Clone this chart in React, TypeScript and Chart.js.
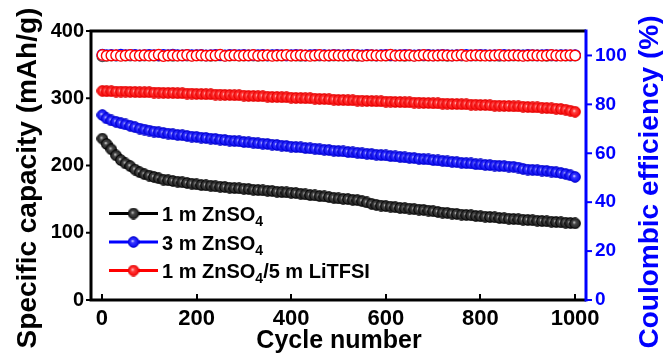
import React, { useEffect, useRef } from 'react';
import { Chart, registerables } from 'chart.js';

Chart.register(...registerables);

// ---------- data ----------
const cycles = [
  1, 10, 20, 30, 40, 50, 60, 70, 80, 90,
  100, 110, 120, 130, 140, 150, 160, 170, 180, 190,
  200, 210, 220, 230, 240, 250, 260, 270, 280, 290,
  300, 310, 320, 330, 340, 350, 360, 370, 380, 390,
  400, 410, 420, 430, 440, 450, 460, 470, 480, 490,
  500, 510, 520, 530, 540, 550, 560, 570, 580, 590,
  600, 610, 620, 630, 640, 650, 660, 670, 680, 690,
  700, 710, 720, 730, 740, 750, 760, 770, 780, 790,
  800, 810, 820, 830, 840, 850, 860, 870, 880, 890,
  900, 910, 920, 930, 940, 950, 960, 970, 980, 990,
  1000,
];

const capacity1mZnSO4 = [
  240, 232, 224, 215, 208, 203, 199, 194, 190, 187,
  185, 183, 181, 179, 178, 177, 176, 175, 174, 173,
  172, 171, 170.5, 170, 169, 168.5, 168, 167, 166.5, 166,
  165.5, 165, 164, 163.5, 163, 162.5, 162, 161, 160.5, 160,
  159.5, 159, 158, 157, 156, 155.5, 154.5, 154, 153, 152,
  151, 150.5, 150, 149, 148.5, 147, 145, 143, 141.5, 140.5,
  139.5, 139, 138, 137, 136.5, 136, 135, 134.5, 134, 133,
  132, 131, 130, 129.5, 128.5, 128, 127, 126.5, 126, 125,
  124.5, 124, 123.5, 123, 122, 121.5, 121, 120.5, 120, 119.5,
  119, 118.5, 118, 117.5, 117, 116.5, 116, 115.5, 115, 114.5,
  114,
];

const capacity3mZnSO4 = [
  275, 270, 267, 265, 263, 261, 259, 257, 255, 253.5,
  252, 250.5, 249.5, 248.5, 247.5, 246.5, 245.5, 245, 244, 243,
  242.5, 241.5, 241, 240, 239.5, 238.5, 238, 237, 236.5, 236,
  235, 234.5, 234, 233, 232.5, 232, 231, 230.5, 229.5, 229,
  228, 227.5, 227, 226, 225.5, 225, 224, 223.5, 223, 222,
  221.5, 221, 220, 219.5, 219, 218, 217.5, 217, 216, 215.5,
  215, 214, 213.5, 213, 212, 211.5, 211, 210, 209.5, 209,
  208, 207.5, 207, 206, 205.5, 205, 204, 203.5, 203, 202,
  201.5, 201, 200.5, 200, 199.5, 199, 198.5, 198, 197, 195,
  194, 193.5, 193, 192.5, 192, 191, 190, 189, 187.5, 185.5,
  183,
];

const capacityLiTFSI = [
  311, 310.5, 310.5, 310, 310, 310, 309.5, 309.5, 309, 309,
  309, 308.5, 308.5, 308, 308, 308, 307.5, 307.5, 307, 307,
  306.5, 306.5, 306, 306, 305.5, 305.5, 305, 305, 304.5, 304.5,
  304, 303.5, 303.5, 303, 303, 302.5, 302, 302, 301.5, 301.5,
  301, 300.5, 300.5, 300, 300, 299.5, 299, 299, 298.5, 298,
  297.5, 297.5, 297, 297, 296.5, 296.5, 296, 296, 295.5, 295.5,
  295, 295, 294.5, 294.5, 294, 294, 293.5, 293.5, 293, 293,
  292.5, 292.5, 292, 292, 291.5, 291.5, 291, 291, 290.5, 290.5,
  290, 290, 289.5, 289, 289, 288.5, 288.5, 288, 288, 287.5,
  287, 286.5, 286.5, 286, 285.5, 285, 284.5, 284, 283, 281.5,
  280,
];

const ce1mZnSO4 = [
  99.6, 99.8, 99.9, 99.9, 100.0, 99.9, 99.9, 100.0, 99.9, 99.9,
  100.0, 99.9, 99.9, 100.0, 99.9, 99.8, 99.9, 100.0, 99.9, 99.9,
  100.0, 99.9, 99.9, 99.8, 99.9, 100.0, 99.9, 99.9, 100.0, 99.9,
  99.9, 100.0, 99.9, 99.8, 99.9, 99.9, 100.0, 99.9, 99.9, 100.0,
  99.9, 99.9, 99.8, 99.9, 100.0, 99.9, 99.9, 100.0, 99.9, 99.9,
  99.9, 100.0, 99.9, 99.9, 99.8, 99.9, 100.0, 99.9, 99.9, 100.0,
  99.9, 99.9, 100.0, 99.9, 99.8, 99.9, 99.9, 100.0, 99.9, 99.9,
  100.0, 99.9, 99.9, 99.8, 99.9, 100.0, 99.9, 99.9, 100.0, 99.9,
  99.9, 100.0, 99.9, 99.9, 99.8, 99.9, 100.0, 99.9, 99.9, 100.0,
  99.9, 99.9, 100.0, 99.9, 99.8, 99.9, 99.9, 100.0, 99.9, 99.9,
  99.9,
];

const ce3mZnSO4 = [
  100.3, 100.1, 100.2, 100.0, 100.3, 100.1, 100.2, 100.2, 100.0, 100.1,
  100.2, 100.1, 100.0, 100.2, 100.1, 100.3, 100.1, 100.0, 100.2, 100.1,
  100.1, 100.2, 100.0, 100.1, 100.2, 100.1, 100.0, 100.2, 100.1, 100.1,
  100.2, 100.0, 100.1, 100.1, 100.2, 100.0, 100.1, 100.2, 100.1, 100.0,
  100.1, 100.2, 100.1, 100.0, 100.1, 100.2, 100.1, 100.1, 100.0, 100.2,
  100.1, 100.0, 100.2, 100.1, 100.1, 100.0, 100.2, 100.1, 100.0, 100.1,
  100.2, 100.1, 100.0, 100.1, 100.2, 100.1, 100.0, 100.1, 100.1, 100.2,
  100.0, 100.1, 100.2, 100.1, 100.0, 100.1, 100.1, 100.2, 100.0, 100.1,
  100.2, 100.1, 100.0, 100.1, 100.1, 100.2, 100.0, 100.1, 100.1, 100.0,
  100.2, 100.1, 100.0, 100.1, 100.2, 100.1, 100.0, 100.1, 100.1, 100.0,
  100.1,
];

const ceLiTFSI = [
  100.2, 99.9, 100.0, 100.1, 99.8, 100.0, 100.2, 99.9, 100.0, 100.1,
  99.9, 100.0, 100.3, 99.7, 100.0, 100.1, 99.9, 100.0, 100.2, 99.8,
  100.0, 100.1, 99.9, 100.0, 100.0, 100.3, 99.8, 100.0, 100.1, 99.9,
  100.0, 100.0, 100.2, 99.9, 100.0, 100.1, 99.8, 100.0, 100.0, 100.2,
  99.9, 100.0, 100.1, 100.0, 99.8, 100.0, 100.2, 99.9, 100.0, 100.1,
  100.0, 99.9, 100.0, 100.2, 100.0, 99.8, 100.0, 100.1, 100.0, 99.9,
  100.0, 100.3, 99.9, 100.0, 100.0, 100.1, 99.8, 100.0, 100.2, 100.0,
  99.9, 100.0, 100.1, 100.0, 99.9, 100.0, 100.2, 99.8, 100.0, 100.1,
  100.0, 99.9, 100.0, 100.0, 100.2, 99.9, 100.0, 100.1, 100.0, 99.8,
  100.0, 100.1, 100.0, 99.9, 100.0, 100.2, 100.0, 99.9, 100.0, 100.1,
  100.0,
];

const seriesLabels = ['1 m ZnSO4', '3 m ZnSO4', '1 m ZnSO4/5 m LiTFSI'];
const xTitle = 'Cycle number';
const yTitle = 'Specific capacity (mAh/g)';
const y1Title = 'Coulombic efficiency (%)';

const FONT = '"Liberation Sans", Arial, Helvetica, sans-serif';

function makeBall(hi: string, mid: string, dark: string, edge: string) {
  const c = document.createElement('canvas');
  c.width = 12;
  c.height = 12;
  const g = c.getContext('2d')!;
  const grad = g.createRadialGradient(5, 5, 0.2, 6, 6, 5.6);
  grad.addColorStop(0, hi);
  grad.addColorStop(0.28, mid);
  grad.addColorStop(1, dark);
  g.beginPath();
  g.arc(6, 6, 5.3, 0, Math.PI * 2);
  g.fillStyle = grad;
  g.fill();
  g.lineWidth = 1;
  g.strokeStyle = edge;
  g.stroke();
  return c;
}

export default function App() {
  const ref = useRef<HTMLCanvasElement>(null);

  useEffect(() => {
    const canvas = ref.current!;
    const ballBlack = makeBall('#d8d8d8', '#4a4a4a', '#1a1a1a', '#000000');
    const ballBlue = makeBall('#d8d8ff', '#3a3aff', '#0000ee', '#0000c8');
    const ballRed = makeBall('#ffd8d8', '#ff4040', '#f80000', '#e00000');
    const balls = [ballBlack, ballBlue, ballRed];

    const pts = (ys: number[]) => cycles.map((c, i) => ({ x: c, y: ys[i] }));

    const decor = {
      id: 'decor',
      afterDraw(chart: any) {
        const ctx = chart.ctx as CanvasRenderingContext2D;
        const { left, right, top, bottom } = chart.chartArea;
        const sx = chart.scales.x;
        const sy = chart.scales.y;
        const sy1 = chart.scales.y1;
        ctx.save();
        ctx.lineCap = 'butt';
        // ticks
        ctx.lineWidth = 2;
        ctx.strokeStyle = '#000';
        sx.ticks.forEach((t: any) => {
          const px = Math.round(sx.getPixelForValue(t.value));
          ctx.beginPath();
          ctx.moveTo(px, bottom);
          ctx.lineTo(px, bottom - 6);
          ctx.stroke();
        });
        sy.ticks.forEach((t: any) => {
          const py = sy.getPixelForValue(t.value);
          ctx.beginPath();
          ctx.moveTo(left - 5, py);
          ctx.lineTo(left, py);
          ctx.stroke();
        });
        ctx.strokeStyle = '#0000ff';
        sy1.ticks.forEach((t: any) => {
          const py = sy1.getPixelForValue(t.value);
          ctx.beginPath();
          ctx.moveTo(right, py);
          ctx.lineTo(right + 6, py);
          ctx.stroke();
        });
        // frame
        ctx.lineWidth = 3;
        ctx.strokeStyle = '#000';
        ctx.beginPath();
        ctx.moveTo(left, top - 1.5);
        ctx.lineTo(left, bottom + 1.5);
        ctx.moveTo(left - 1.5, top);
        ctx.lineTo(right, top);
        ctx.moveTo(left - 1.5, bottom);
        ctx.lineTo(right, bottom);
        ctx.stroke();
        ctx.strokeStyle = '#0000ff';
        ctx.beginPath();
        ctx.moveTo(right, top - 1.5);
        ctx.lineTo(right, bottom + 1.5);
        ctx.stroke();

        // titles
        ctx.fillStyle = '#000';
        ctx.font = `bold 25px ${FONT}`;
        ctx.textAlign = 'center';
        ctx.textBaseline = 'alphabetic';
        ctx.fillText(xTitle, 339, 348);

        ctx.save();
        ctx.translate(28, 178);
        ctx.rotate(-Math.PI / 2);
        ctx.font = `bold 28px ${FONT}`;
        ctx.textBaseline = 'middle';
        ctx.fillText(yTitle, 0, 0);
        ctx.restore();

        ctx.save();
        ctx.translate(650, 182);
        ctx.rotate(-Math.PI / 2);
        ctx.fillStyle = '#0000ff';
        ctx.font = `bold 28px ${FONT}`;
        ctx.textBaseline = 'middle';
        ctx.fillText(y1Title, 0, 0);
        ctx.restore();

        // legend
        const colors = ['#000000', '#0000ff', '#ff0000'];
        const baselines = [221, 249.5, 278];
        ctx.textAlign = 'left';
        ctx.textBaseline = 'alphabetic';
        seriesLabels.forEach((lab, i) => {
          const by = baselines[i];
          const ly = by - 7.5;
          ctx.strokeStyle = colors[i];
          ctx.lineWidth = 3;
          ctx.beginPath();
          ctx.moveTo(109, ly);
          ctx.lineTo(158, ly);
          ctx.stroke();
          const b = balls[i];
          ctx.drawImage(b, 133.5 - b.width / 2, ly - b.height / 2);
          ctx.fillStyle = '#000';
          let x = 162;
          const parts = lab.split('4');
          parts.forEach((p, k) => {
            ctx.font = `bold 20px ${FONT}`;
            ctx.fillText(p, x, by);
            x += ctx.measureText(p).width;
            if (k < parts.length - 1) {
              ctx.font = `bold 14px ${FONT}`;
              ctx.fillText('4', x, by + 5);
              x += ctx.measureText('4').width;
            }
          });
        });
        ctx.restore();
      },
    };

    const chart = new Chart(canvas, {
      type: 'scatter',
      data: {
        datasets: [
          { label: 'CE ' + seriesLabels[2], data: pts(ceLiTFSI), yAxisID: 'y1', order: 0,
            pointStyle: 'circle', pointRadius: 5.2, pointBorderWidth: 1.4,
            pointBackgroundColor: '#ffffff', pointBorderColor: '#ff0000' },
          { label: 'CE ' + seriesLabels[1], data: pts(ce3mZnSO4), yAxisID: 'y1', order: 1,
            pointStyle: 'circle', pointRadius: 5.2, pointBorderWidth: 1.4,
            pointBackgroundColor: '#ffffff', pointBorderColor: '#0000ff' },
          { label: 'CE ' + seriesLabels[0], data: pts(ce1mZnSO4), yAxisID: 'y1', order: 2,
            pointStyle: 'circle', pointRadius: 5.2, pointBorderWidth: 1.4,
            pointBackgroundColor: '#ffffff', pointBorderColor: '#555555' },
          { label: seriesLabels[2], data: pts(capacityLiTFSI), yAxisID: 'y', order: 3,
            pointStyle: ballRed as any, pointRadius: 5 },
          { label: seriesLabels[1], data: pts(capacity3mZnSO4), yAxisID: 'y', order: 4,
            pointStyle: ballBlue as any, pointRadius: 5 },
          { label: seriesLabels[0], data: pts(capacity1mZnSO4), yAxisID: 'y', order: 5,
            pointStyle: ballBlack as any, pointRadius: 5 },
        ],
      },
      options: {
        animation: false,
        responsive: false,
        devicePixelRatio: 1,
        events: [],
        layout: { padding: { top: 31, left: 0, right: 0, bottom: 0 } },
        plugins: { legend: { display: false }, tooltip: { enabled: false } },
        scales: {
          x: {
            type: 'linear',
            min: -23,
            max: 1023,
            afterFit: (s: any) => { s.height = 55; },
            grid: { display: false, drawTicks: false },
            border: { display: false },
            ticks: {
              stepSize: 200,
              includeBounds: false,
              color: '#000',
              padding: 6,
              maxRotation: 0,
              autoSkip: false,
              font: { family: FONT, size: 22, weight: 'bold' },
              callback: (v: any) => String(v),
            },
          },
          y: {
            position: 'left',
            min: 0,
            max: 400,
            afterFit: (s: any) => { s.width = 91; },
            grid: { display: false, drawTicks: false },
            border: { display: false },
            ticks: {
              stepSize: 100,
              color: '#000',
              padding: 7,
              font: { family: FONT, size: 20, weight: 'bold' },
              callback: (v: any) => String(v),
            },
          },
          y1: {
            position: 'right',
            min: 0,
            max: 110,
            afterFit: (s: any) => { s.width = 77; },
            grid: { display: false, drawTicks: false },
            border: { display: false },
            ticks: {
              stepSize: 20,
              includeBounds: false,
              color: '#0000ff',
              padding: 9,
              font: { family: FONT, size: 19, weight: 'bold' },
              callback: (v: any) => String(v),
            },
          },
        },
      } as any,
      plugins: [decor],
    });

    return () => chart.destroy();
  }, []);

  return (
    <div style={{ position: 'fixed', left: 0, top: 0, width: 663, height: 355, background: '#ffffff' }}>
      <canvas ref={ref} width={663} height={355} style={{ display: 'block' }} />
    </div>
  );
}
